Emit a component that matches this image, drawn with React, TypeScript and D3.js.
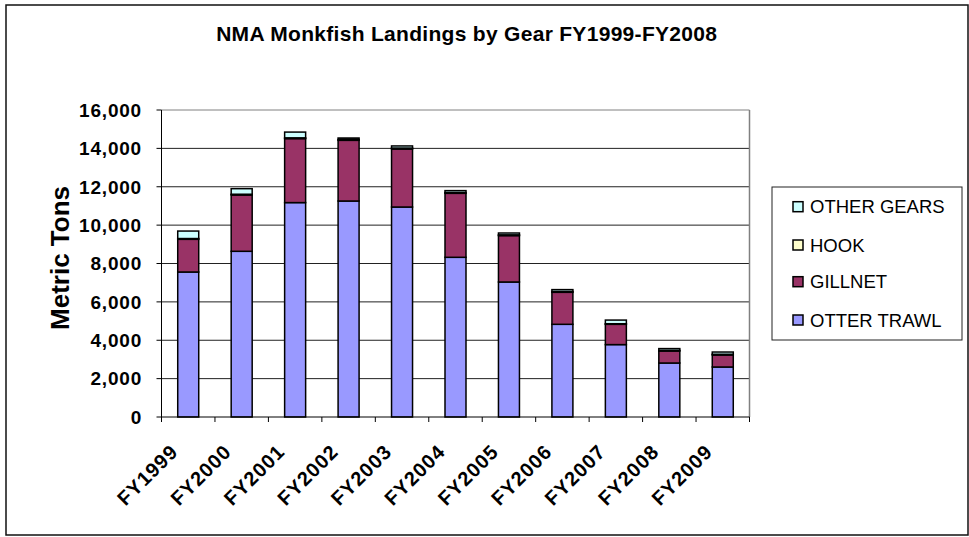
import React from "react";
import * as d3 from "d3";

const categories = ["FY1999","FY2000","FY2001","FY2002","FY2003","FY2004","FY2005","FY2006","FY2007","FY2008","FY2009"];
const otterTrawl = [7557, 8636, 11174, 11257, 10944, 8323, 7036, 4831, 3773, 2814, 2606];
const gillnet = [1704, 2934, 3335, 3163, 3023, 3335, 2418, 1668, 1058, 626, 625];
const hook = [40, 40, 40, 40, 50, 40, 40, 40, 30, 30, 40];
const otherGears = [390, 290, 300, 80, 110, 100, 95, 100, 190, 95, 115];
const yTicks = [0, 2000, 4000, 6000, 8000, 10000, 12000, 14000, 16000];

const seriesNames = ["OTTER TRAWL", "GILLNET", "HOOK", "OTHER GEARS"];
const seriesColors = ["#9999FF", "#993366", "#FFFFCC", "#CCFFFF"];
const seriesValues = [otterTrawl, gillnet, hook, otherGears];

const W = 969, H = 537;
const L = 161.5, R = 749.5, T = 110, B = 417;
const FONT = "Arial, 'Liberation Sans', sans-serif";

export default function App() {
  const xb = d3.scaleBand<string>().domain(categories).range([L, R]);
  const y = d3.scaleLinear().domain([0, 16000]).range([B, T]);

  const rows = categories.map((c, i) => {
    const o: any = { cat: c };
    seriesNames.forEach((s, k) => (o[s] = seriesValues[k][i]));
    return o;
  });
  const stacked = d3.stack<any>().keys(seriesNames)(rows);
  const bw = 21;
  const fmt = d3.format(",");

  const legendOrder = [3, 2, 1, 0];
  const legendY = [206.7, 245, 281.7, 320];

  return (
    <div style={{ position: "absolute", left: 0, top: 0 }}>
      <svg width={W} height={H} style={{ display: "block", fontFamily: FONT }}>
        <rect x={0} y={0} width={W} height={H} fill="#fff" />
        <rect x={6} y={5} width={962} height={530} fill="#fff" stroke="#111" strokeWidth={1.5} />
        <text x={466.7} y={41} textAnchor="middle" fontSize={21} fontWeight="bold" letterSpacing={0.3} fill="#000">
          NMA Monkfish Landings by Gear FY1999-FY2008
        </text>

        {/* gridlines */}
        {yTicks.filter(t => t > 0).map(t => (
          <line key={t} x1={L} x2={R} y1={y(t)} y2={y(t)} stroke={t === 16000 ? "#808080" : "#222"} strokeWidth={1} />
        ))}
        <line x1={R} x2={R} y1={T} y2={B} stroke="#808080" strokeWidth={1.5} />

        {/* bars */}
        {stacked.map((layer, k) => (
          <g key={layer.key}>
            {layer.map((d, i) => {
              const cx = (xb(categories[i]) as number) + xb.bandwidth() / 2;
              return (
                <rect key={i} x={cx - bw / 2} y={y(d[1])} width={bw} height={Math.max(0, y(d[0]) - y(d[1]))}
                  fill={seriesColors[k]} stroke="#000" strokeWidth={1.5} />
              );
            })}
          </g>
        ))}

        {/* axes */}
        <line x1={L} x2={L} y1={T} y2={B} stroke="#000" strokeWidth={1} />
        <line x1={L} x2={R} y1={B} y2={B} stroke="#000" strokeWidth={1} />
        {yTicks.map(t => (
          <g key={t}>
            <line x1={L - 5} x2={L} y1={y(t)} y2={y(t)} stroke="#000" />
            <text x={142} y={y(t)} dy="0.36em" textAnchor="end" fontSize={19} fontWeight="bold" letterSpacing={0.8} fill="#000">
              {fmt(t)}
            </text>
          </g>
        ))}
        {categories.map((c, i) => (
          <line key={"t" + i} x1={xb(c) as number} x2={xb(c) as number} y1={B} y2={B + 5} stroke="#000" />
        ))}
        <line x1={R} x2={R} y1={B} y2={B + 5} stroke="#000" />
        {categories.map(c => {
          const cx = (xb(c) as number) + xb.bandwidth() / 2;
          return (
            <text key={c} transform={`translate(${cx - 9},${453}) rotate(-45)`} textAnchor="end" fontSize={20} fontWeight="bold" letterSpacing={1} fill="#000">
              {c}
            </text>
          );
        })}
        <text transform={`translate(${69},${258}) rotate(-90)`} textAnchor="middle" fontSize={26} fontWeight="bold" fill="#000">
          Metric Tons
        </text>

        {/* legend */}
        <rect x={772} y={187} width={190} height={153} fill="#fff" stroke="#222" strokeWidth={1} />
        {legendOrder.map((k, j) => (
          <g key={k}>
            <rect x={793} y={legendY[j] - 5} width={10} height={10} fill={seriesColors[k]} stroke="#000" strokeWidth={1.5} />
            <text x={810} y={legendY[j]} dy="0.36em" fontSize={18.5} fill="#000">{seriesNames[k]}</text>
          </g>
        ))}
      </svg>
    </div>
  );
}
